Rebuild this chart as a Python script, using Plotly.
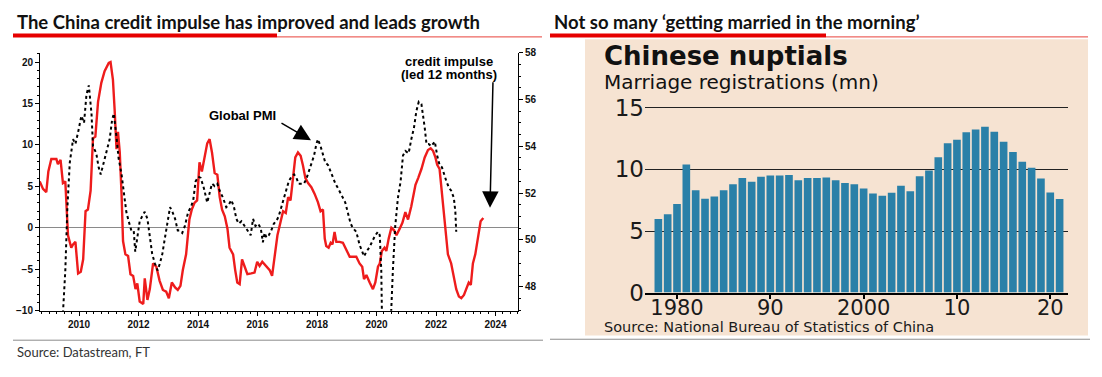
import plotly.graph_objects as go

W, H = 1102, 377

# ---------------- Left chart data ----------------
# China credit impulse (led 12 months), % -- left axis
ci_t = [2008.68, 2008.79, 2008.90, 2008.97, 2009.07, 2009.24, 2009.29, 2009.38, 2009.46, 2009.54,
        2009.63, 2009.74, 2009.80, 2009.88, 2009.97, 2010.06, 2010.14, 2010.22, 2010.30, 2010.39,
        2010.47, 2010.55, 2010.64, 2010.75, 2010.86, 2011.00, 2011.06, 2011.14, 2011.20, 2011.26,
        2011.31, 2011.37, 2011.43, 2011.48, 2011.56, 2011.65, 2011.73, 2011.82, 2011.90, 2011.96,
        2012.04, 2012.16, 2012.21, 2012.30, 2012.38, 2012.49, 2012.60, 2012.71, 2012.82, 2012.93,
        2013.02, 2013.12, 2013.23, 2013.32, 2013.41, 2013.49, 2013.60, 2013.71, 2013.79, 2013.88,
        2013.97, 2014.05, 2014.13, 2014.22, 2014.31, 2014.39, 2014.47, 2014.56, 2014.65, 2014.73,
        2014.81, 2014.90, 2014.99, 2015.06, 2015.18, 2015.25, 2015.32, 2015.40, 2015.48, 2015.57,
        2015.66, 2015.79, 2015.90, 2015.99, 2016.07, 2016.16, 2016.30, 2016.41, 2016.49, 2016.58,
        2016.67, 2016.78, 2016.86, 2016.95, 2017.03, 2017.11, 2017.19, 2017.27, 2017.36, 2017.45,
        2017.53, 2017.61, 2017.70, 2017.81, 2017.92, 2018.03, 2018.12, 2018.20, 2018.26, 2018.31,
        2018.39, 2018.46, 2018.52, 2018.59, 2018.65, 2018.76, 2018.87, 2018.99, 2019.10, 2019.21,
        2019.32, 2019.43, 2019.52, 2019.58, 2019.66, 2019.77, 2019.88, 2019.96, 2020.05, 2020.11,
        2020.18, 2020.27, 2020.33, 2020.41, 2020.50, 2020.59, 2020.67, 2020.78, 2020.87, 2020.97,
        2021.06, 2021.17, 2021.31, 2021.40, 2021.51, 2021.62, 2021.73, 2021.82, 2021.90, 2021.98,
        2022.04, 2022.12, 2022.18, 2022.23, 2022.31, 2022.40, 2022.51, 2022.60, 2022.68, 2022.77,
        2022.85, 2022.94, 2023.02, 2023.10, 2023.17, 2023.24, 2023.32, 2023.41, 2023.50, 2023.59]
ci_v = [5.6, 4.7, 4.3, 6.8, 8.3, 8.3, 7.7, 8.2, 5.4, 5.6,
        -0.9, -2.4, -2.0, -1.7, -5.5, -5.3, -3.8, 2.0, 2.2, 4.5,
        10.8, 11.0, 15.2, 17.5, 18.9, 19.9, 20.0, 17.9, 14.1, 9.5,
        11.6, 9.1, 4.1, -1.6, -3.2, -3.4, -5.6, -5.8, -7.4, -6.7,
        -8.9, -9.2, -6.1, -8.7, -7.4, -4.3, -4.7, -6.4, -7.5, -7.7,
        -8.5, -6.6, -7.2, -7.5, -7.0, -5.1, -3.2, 1.0, 2.2, 3.0,
        3.3, 7.9, 6.8, 8.3, 10.2, 10.7, 9.1, 6.6, 6.4, 3.7,
        2.2, 1.4, -0.1, -2.4, -3.2, -5.1, -6.6, -6.8, -3.8, -4.7,
        -5.6, -5.5, -5.4, -4.1, -4.6, -4.1, -4.6, -5.1, -5.8, -3.2,
        -0.9, 0.8, 2.0, 1.8, 3.7, 3.3, 5.6, 8.5, 9.1, 8.7,
        7.5, 6.0, 5.4, 4.9, 4.1, 3.1, 2.0, 2.2, -1.3, -2.2,
        -2.4, -1.8, -2.0, -0.5, -1.7, -1.7, -1.8, -2.6, -3.5, -3.5,
        -3.5, -4.3, -4.7, -6.2, -5.7, -6.6, -7.4, -6.6, -4.7, -4.3,
        -2.8, -2.4, -2.8, -1.3, 0.0, -0.3, -0.9, -0.1, 0.6, 1.9,
        1.0, 2.6, 5.2, 6.0, 7.1, 8.5, 9.4, 9.6, 9.3, 8.5,
        7.6, 7.1, 4.9, 2.2, -0.4, -3.2, -4.3, -5.8, -7.4, -8.3,
        -8.5, -8.1, -7.4, -6.6, -6.9, -4.3, -3.2, -0.9, 0.8, 1.2]

# Global PMI -- right axis
pmi_t = [2008.90, 2009.20, 2009.40, 2009.46, 2009.54, 2009.61, 2009.69, 2009.80, 2009.88, 2009.97,
         2010.08, 2010.17, 2010.25, 2010.33, 2010.42, 2010.47, 2010.58, 2010.66, 2010.73, 2010.81,
         2010.92, 2011.03, 2011.11, 2011.17, 2011.26, 2011.33, 2011.43, 2011.51, 2011.59, 2011.67,
         2011.76, 2011.84, 2011.89, 2011.96, 2012.04, 2012.12, 2012.21, 2012.30, 2012.38, 2012.46,
         2012.55, 2012.64, 2012.72, 2012.80, 2012.89, 2012.98, 2013.06, 2013.14, 2013.23, 2013.32,
         2013.39, 2013.47, 2013.56, 2013.67, 2013.76, 2013.84, 2013.92, 2014.01, 2014.09, 2014.20,
         2014.31, 2014.39, 2014.47, 2014.56, 2014.65, 2014.73, 2014.84, 2014.95, 2015.03, 2015.12,
         2015.21, 2015.29, 2015.37, 2015.46, 2015.57, 2015.68, 2015.77, 2015.85, 2015.93, 2016.02,
         2016.11, 2016.18, 2016.24, 2016.30, 2016.38, 2016.46, 2016.55, 2016.63, 2016.71, 2016.80,
         2016.89, 2016.97, 2017.05, 2017.14, 2017.23, 2017.31, 2017.38, 2017.47, 2017.56, 2017.64,
         2017.72, 2017.81, 2017.90, 2017.98, 2018.03, 2018.12, 2018.20, 2018.28, 2018.37, 2018.46,
         2018.54, 2018.62, 2018.71, 2018.80, 2018.87, 2018.95, 2019.04, 2019.13, 2019.21, 2019.32,
         2019.43, 2019.52, 2019.58, 2019.66, 2019.77, 2019.88, 2019.96, 2020.05, 2020.11, 2020.16,
         2020.20, 2020.27, 2020.35, 2020.45, 2020.50, 2020.55, 2020.63, 2020.72, 2020.81, 2020.89,
         2020.97, 2021.08, 2021.17, 2021.26, 2021.34, 2021.42, 2021.51, 2021.56, 2021.62, 2021.68,
         2021.75, 2021.84, 2021.96, 2022.04, 2022.12, 2022.20, 2022.27, 2022.35, 2022.43, 2022.51,
         2022.60, 2022.65, 2022.68]
pmi_v = [40.0, 42.0, 45.5, 47.1, 48.7, 51.4, 53.3, 54.3, 54.1, 54.6,
         55.3, 55.0, 56.2, 56.6, 55.4, 54.0, 53.7, 53.1, 52.8, 53.2,
         53.7, 54.3, 55.1, 55.4, 54.4, 53.5, 52.8, 52.0, 51.2, 50.8,
         50.4, 50.4, 49.5, 50.1, 50.8, 51.0, 51.2, 50.9, 50.2, 49.4,
         49.0, 48.7, 49.0, 49.4, 50.1, 50.8, 51.4, 51.2, 50.9, 50.4,
         50.4, 50.3, 50.6, 51.2, 51.4, 51.7, 52.5, 52.7, 52.65, 52.2,
         51.6, 52.0, 52.4, 52.3, 52.4, 52.1, 51.8, 51.4, 51.5, 51.7,
         51.4, 50.9, 50.7, 50.8, 50.6, 50.35, 50.2, 50.9, 50.6, 50.7,
         50.5, 49.9, 50.3, 50.1, 50.2, 50.4, 50.7, 50.8, 51.0, 51.4,
         51.8, 52.1, 52.5, 52.7, 52.8, 52.65, 52.4, 52.4, 52.4, 52.6,
         52.9, 53.2, 53.6, 54.1, 54.3, 54.0, 53.6, 53.3, 53.2, 52.9,
         52.6, 52.4, 52.2, 52.0, 51.8, 51.6, 51.2, 50.7, 50.5, 50.35,
         49.8, 49.5, 49.3, 49.5, 49.7, 50.0, 50.2, 50.35, 50.2, 48.7,
         47.2, 39.5, 42.5, 46.0, 47.0, 48.7, 50.6, 51.8, 52.5, 53.6,
         53.8, 53.7, 54.3, 54.8, 55.5, 55.9, 55.8, 55.4, 54.8, 54.1,
         54.1, 54.0, 54.2, 53.6, 53.2, 53.1, 52.8, 52.5, 52.25, 52.1,
         51.8, 51.2, 50.35]

left_xticks = [2010, 2012, 2014, 2016, 2018, 2020, 2022, 2024]
left_yticks = [-10, -5, 0, 5, 10, 15, 20]
right_yticks = [48, 50, 52, 54, 56, 58]

# ---------------- Right chart data ----------------
years = list(range(1978, 2022))
marriages = [5.97, 6.37, 7.20, 10.40, 8.32, 7.62, 7.80, 8.30, 8.80, 9.30,
             9.00, 9.40, 9.50, 9.50, 9.55, 9.12, 9.30, 9.30, 9.35, 9.12,
             8.90, 8.80, 8.45, 8.05, 7.86, 8.10, 8.67, 8.23, 9.45, 9.91,
             10.98, 12.12, 12.41, 13.02, 13.24, 13.47, 13.07, 12.25, 11.42, 10.63,
             10.13, 9.27, 8.13, 7.60]
bar_xtickvals = [1980, 1990, 2000, 2010, 2020]
bar_xticktext = ["1980", "90", "2000", "10", "20"]
bar_yticks = [0, 5, 10, 15]


def px(x):
    return x / W


def py(y):
    return 1 - y / H


RED = "#ee1c1c"
fig = go.Figure()
fig.add_trace(go.Scatter(x=ci_t, y=ci_v, mode="lines", xaxis="x", yaxis="y",
                         line=dict(color=RED, width=2.4), showlegend=False, hoverinfo="skip"))
fig.add_trace(go.Scatter(x=pmi_t, y=pmi_v, mode="lines", xaxis="x", yaxis="y2",
                         line=dict(color="black", width=2, dash="dot"), showlegend=False,
                         hoverinfo="skip"))
fig.add_trace(go.Bar(x=years, y=marriages, xaxis="x3", yaxis="y3", width=0.82,
                     marker=dict(color="#2a80a8", line=dict(width=0)), showlegend=False,
                     hoverinfo="skip"))

axfont = dict(family="Liberation Sans", size=10, color="#111", weight="bold")
ftfont = "DejaVu Sans"

fig.update_layout(
    width=W, height=H, autosize=False,
    margin=dict(l=0, r=0, t=0, b=0),
    paper_bgcolor="white", plot_bgcolor="rgba(0,0,0,0)",
    xaxis=dict(domain=[px(40), px(518)], range=[2008.689, 2024.756], anchor="y",
               tickmode="array", tickvals=left_xticks, ticktext=[str(v) for v in left_xticks],
               ticks="outside", ticklen=4, tickcolor="black", showline=True, linecolor="black",
               linewidth=1, showgrid=False, zeroline=False, tickfont=axfont,
               minor=dict(dtick=0.25, tick0=2010, ticks="outside", ticklen=2, tickcolor="black")),
    yaxis=dict(domain=[py(321), py(50)], range=[-10, 21.15], anchor="x",
               tickmode="array", tickvals=left_yticks, ticks="outside", ticklen=4,
               tickcolor="black", showline=True, linecolor="black", linewidth=1,
               showgrid=False, zeroline=True, zerolinecolor="#8a8a8a", zerolinewidth=1,
               tickfont=axfont,
               minor=dict(dtick=1, tick0=0, ticks="outside", ticklen=2, tickcolor="black")),
    yaxis2=dict(overlaying="y", side="right", anchor="x", range=[46.98, 58],
                tickmode="array", tickvals=right_yticks, ticks="outside", ticklen=4,
                tickcolor="black", showline=True, linecolor="black", linewidth=1,
                showgrid=False, zeroline=False, tickfont=axfont,
                minor=dict(dtick=0.5, tick0=48, ticks="outside", ticklen=2, tickcolor="black")),
    xaxis3=dict(domain=[px(645), px(1068)], range=[1976.57, 2021.9], anchor="y3",
                tickmode="array", tickvals=bar_xtickvals, ticktext=bar_xticktext,
                ticks="outside", ticklen=5, tickwidth=2, tickcolor="black",
                showline=True, linecolor="black", linewidth=1.5, showgrid=False, zeroline=False,
                ticklabelstandoff=-10,
                tickfont=dict(family=ftfont, size=21, color="#1a1a1a")),
    yaxis3=dict(domain=[py(302), py(100)], range=[0, 15.62], anchor="x3",
                tickmode="array", tickvals=bar_yticks, ticks="", showline=False,
                showgrid=True, gridcolor="#222", gridwidth=1, zeroline=False,
                tickfont=dict(family=ftfont, size=23, color="#1a1a1a")),
)

shapes = [
    # peach panel
    dict(type="rect", xref="paper", yref="paper", x0=px(585), x1=px(1088), y0=py(347), y1=py(36),
         fillcolor="#f6e3d2", line=dict(width=0), layer="below"),
    # title rules
    dict(type="line", xref="paper", yref="paper", x0=px(13), x1=px(277), y0=py(32), y1=py(32),
         line=dict(color="#e60000", width=4)),
    dict(type="line", xref="paper", yref="paper", x0=px(277), x1=px(542), y0=py(33.5), y1=py(33.5),
         line=dict(color="#e8403a", width=1)),
    dict(type="line", xref="paper", yref="paper", x0=px(550), x1=px(826), y0=py(32), y1=py(32),
         line=dict(color="#e60000", width=4)),
    dict(type="line", xref="paper", yref="paper", x0=px(826), x1=px(1088), y0=py(33.5), y1=py(33.5),
         line=dict(color="#e8403a", width=1)),
    # bottom separators
    dict(type="line", xref="paper", yref="paper", x0=px(13), x1=px(543), y0=py(352), y1=py(352),
         line=dict(color="#8c8c8c", width=1)),
    dict(type="line", xref="paper", yref="paper", x0=px(550), x1=px(1090), y0=py(351), y1=py(351),
         line=dict(color="#8c8c8c", width=1)),
]

titlefont = dict(family="Lato", size=18.5, color="#111", weight="bold")
ann = [
    dict(text="The China credit impulse has improved and leads growth", x=px(15), y=py(17.5),
         xanchor="left", yanchor="middle", font=titlefont),
    dict(text="Not so many \u2018getting married in the morning\u2019", x=px(552), y=py(17.5),
         xanchor="left", yanchor="middle", font=titlefont),
    dict(text="Source: Datastream, FT", x=px(15), y=py(364), xanchor="left", yanchor="middle",
         font=dict(family="Lato", size=13, color="#333")),
    # left chart labels
    dict(text="Global PMI", x=px(242), y=py(116), xanchor="center", yanchor="middle",
         font=dict(family="Liberation Sans", size=13, color="black", weight="bold")),
    dict(text="credit impulse", x=px(449), y=py(59), xanchor="center", yanchor="middle",
         font=dict(family="Liberation Sans", size=13, color="black", weight="bold")),
    dict(text="(led 12 months)", x=px(449), y=py(73.5), xanchor="center", yanchor="middle",
         font=dict(family="Liberation Sans", size=13, color="black", weight="bold")),
    dict(text="", x=px(311), y=py(142), ax=-31, ay=-18, showarrow=True, arrowhead=2,
         arrowsize=2.2, arrowwidth=1.5, arrowcolor="black", standoff=0),
    dict(text="", x=px(490), y=py(213), ax=3, ay=-127, showarrow=True, arrowhead=2,
         arrowsize=2.2, arrowwidth=1.5, arrowcolor="black", standoff=0),
    # right chart labels
    dict(text="<b>Chinese nuptials</b>", x=px(602), y=py(54), xanchor="left", yanchor="middle",
         font=dict(family=ftfont, size=26, color="#111")),
    dict(text="Marriage registrations (mn)", x=px(602), y=py(81), xanchor="left", yanchor="middle",
         font=dict(family=ftfont, size=20, color="#111")),
    dict(text="Source: National Bureau of Statistics of China", x=px(602), y=py(338.5),
         xanchor="left", yanchor="middle", font=dict(family=ftfont, size=14.5, color="#1a1a1a")),
]
for a in ann:
    a.setdefault("xref", "paper")
    a.setdefault("yref", "paper")
    a.setdefault("showarrow", False)

fig.update_layout(shapes=shapes, annotations=ann)

POST = (
    "var gd=document.getElementById('{plot_id}');"
    "document.documentElement.style.cssText='margin:0;padding:0;overflow:hidden;width:1102px;height:377px;';"
    "document.body.style.cssText='margin:0;padding:0;overflow:hidden;width:1102px;height:377px;';"
    "gd.style.position='absolute';gd.style.left='0px';gd.style.top='0px';"
)
fig.write_html("out.html", config={"displayModeBar": False}, post_script=POST)
